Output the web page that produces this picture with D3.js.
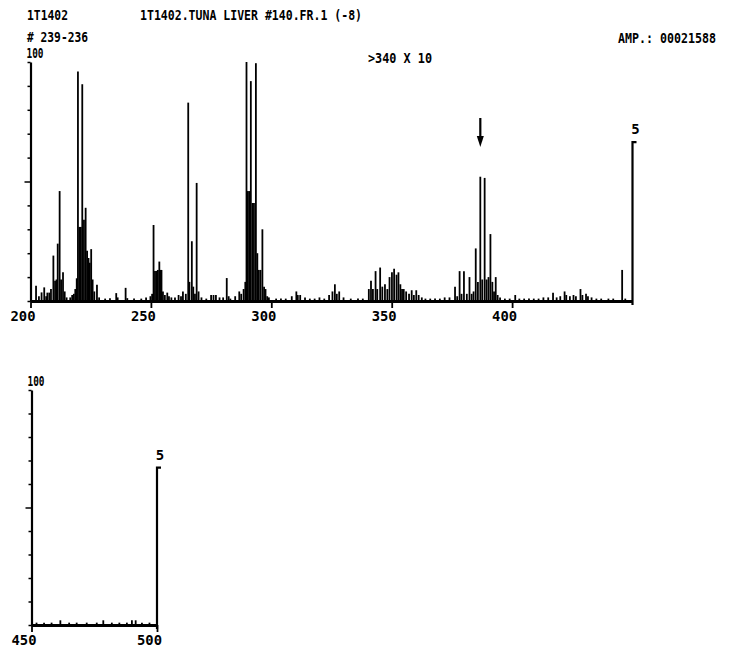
<!DOCTYPE html>
<html>
<head>
<meta charset="utf-8">
<script src="https://cdn.jsdelivr.net/npm/d3@7"></script>
<style>
  body { margin: 0; background: #fff; }
  svg text { font-family: "DejaVu Sans Mono", "Liberation Mono", monospace; fill: #000; font-weight: bold; }
</style>
</head>
<body>
<svg id="spec" width="736" height="650"></svg>
<script>
// upper trace, m/z 200-450 (relative intensity %)
const mzTop = [
  202.3, 203.5, 204.6, 205.7, 206.5, 207.0, 207.8, 208.5, 209.5, 210.2, 210.8, 211.3, 212.1, 212.7, 213.5, 214.2, 215,
  216.5, 217.3, 218, 218.6, 219.2, 219.7, 220.3, 220.9, 221.5, 222.2, 222.9, 223.5, 224.1, 224.6, 225.2, 225.8, 226.5, 227.6, 228.5,
  231, 233, 235.6, 236.2, 239.5, 240.2, 243, 246, 248,
  249.8, 250.5, 251.1, 251.7, 252.3, 252.9, 253.5, 254.0, 254.4, 255, 255.8, 256.8, 257.5,
  258.5, 260, 261.5, 262.5, 263.3, 264.5, 265.5, 266.0, 267.0, 267.6, 268.3, 269, 269.8, 271,
  273, 275, 276, 277, 278.5, 280, 281.5, 282.3, 283, 285, 286.7, 287.5,
  288.5, 289.2, 289.7, 290.2, 290.8, 291.5, 292.2, 292.8, 293.6, 294.2, 294.8, 295.5, 296.3, 297, 297.6, 298.3, 299,
  302, 304, 306, 308.5, 310.4, 311, 312, 314, 316, 318, 320, 322, 324, 325.4, 326.4, 327.2, 328.2, 330, 333, 336, 338,
  340.5, 341.4, 342.2, 343.3, 344, 345.2, 346.1, 347.2, 348.2, 349.1, 350.1, 351.0, 352.0, 352.8, 353.6, 354.3, 355, 356, 357.2, 358.3, 359.2, 360.2, 361.2, 362.5,
  364, 366, 368, 370, 372, 374,
  376.3, 377.2, 378.2, 379.0, 380.0, 381.2, 382.3, 383.2, 384, 384.9, 385.8, 386.8, 387.6, 388.6, 389.4, 390.2, 391, 391.8, 392.5, 393.2, 394, 395,
  397, 399, 401.3, 403, 405, 407, 409, 411, 413, 415, 417, 418.5, 420, 421.8, 422.5, 424, 425.5, 426.5, 428.4, 429.2, 430.7, 431.5, 433, 435, 437, 440, 442, 445.7, 447
];
const intTop = [
  6.4, 2, 3.6, 5.7, 2, 3.5, 3.5, 5, 19, 8.5, 9, 24, 46, 9, 12, 4, 1.5,
  1.5, 2.5, 3, 5, 9.5, 96, 31, 31, 90.7, 34, 39, 21, 18, 16, 21.7, 9, 4, 6.8, 1.5,
  1, 1.2, 3.3, 1.5, 5.5, 1.2, 1, 1, 1.5,
  2, 3, 31.8, 12.6, 12.6, 13, 16.5, 13, 13, 4, 2.5, 3.5, 2,
  1.5, 1.5, 2.5, 2, 4, 3, 83, 8, 25, 6, 3, 49.4, 4, 1.5,
  1, 2.5, 2.5, 2.5, 1.5, 1.5, 9.6, 2, 1, 2, 4, 3,
  5, 8, 100, 46, 46, 92, 41, 41, 99.5, 20, 13, 13, 30, 6, 5, 2, 1.5,
  1, 1, 1, 2, 4, 2.5, 2.5, 1.5, 1, 1, 1.5, 1, 2.5, 4, 7, 3, 4, 1.5, 1, 1, 1,
  5, 8.5, 5, 12.5, 5, 14, 6, 7, 5, 10, 12, 13.5, 11, 12, 7, 5, 5, 4, 3, 4.5, 2.5, 4.5, 2.5, 1.5,
  1, 1, 1, 1, 1.5, 1.5,
  6, 2, 12.5, 3, 12.5, 3, 10, 3, 4, 22, 8, 52, 9, 51.5, 9, 10, 28, 8, 4, 10, 2.5, 1.5,
  1, 1, 2.5, 1, 1, 1, 1, 1, 1.5, 1.5, 3.5, 1.5, 2, 4, 2.5, 2, 2.5, 2, 5, 2.5, 3, 2, 1.5, 1, 1, 1, 1, 13, 1
];
// lower trace, m/z 450-500
const mzLow = [452, 455, 458, 461.5, 465, 468, 472, 476, 478.6, 482, 485, 488, 490, 491.5, 494, 497];
const intLow = [1, 1, 1, 2, 1, 1, 1, 1, 2, 1, 1, 1, 2, 2, 1, 1];

const yTicks = [0, 10, 20, 30, 40, 50, 60, 70, 80, 90, 100];
const xTicksTop = [200, 250, 300, 350, 400];
const xTicksLow = [450, 500];
const markerTop = { mz: 450, value: 66.5, label: "5" };
const markerLow = { mz: 500, value: 67, label: "5" };
const arrowMz = 386.8;

const headerLines = [
  { text: "1T1402", x: 27, y: 20, w: 41 },
  { text: "1T1402.TUNA LIVER #140.FR.1 (-8)", x: 140, y: 20, w: 222 },
  { text: "# 239-236", x: 27, y: 42, w: 61 },
  { text: "AMP.: 00021588", x: 618, y: 43, w: 98 },
  { text: ">340 X 10", x: 368, y: 63, w: 64 }
];

const svg = d3.select("#spec");

const xTop = d3.scaleLinear().domain([200, 450]).range([30.5, 632.5]);
const yTop = d3.scaleLinear().domain([0, 100]).range([301, 62]);
const xLow = d3.scaleLinear().domain([450, 500]).range([31.5, 157]);
const yLow = d3.scaleLinear().domain([0, 100]).range([625, 390]);

// header text
svg.selectAll("text.head")
  .data(headerLines)
  .enter()
  .append("text")
  .attr("class", "head")
  .attr("x", d => d.x)
  .attr("y", d => d.y)
  .attr("textLength", d => d.w)
  .attr("lengthAdjust", "spacingAndGlyphs")
  .style("font-size", "14px")
  .text(d => d.text);

function panel(x, y, mz, inten, xTicks, marker) {
  const g = svg.append("g");

  // spectrum lines
  g.selectAll("line.pk")
    .data(mz.map((m, i) => ({ m, v: inten[i] })))
    .enter()
    .append("line")
    .attr("x1", d => x(d.m))
    .attr("x2", d => x(d.m))
    .attr("y1", y(0))
    .attr("y2", d => y(d.v))
    .attr("stroke", "#000")
    .attr("stroke-width", 1.8);

  // y axis, ticks every 10 %, longer at 50
  const ya = g.append("g")
    .attr("transform", `translate(${x.range()[0]},0)`)
    .call(d3.axisLeft(y).tickValues(yTicks).tickSize(3).tickSizeOuter(0).tickFormat(""));
  ya.selectAll(".tick line").attr("x2", d => d === 50 ? -6 : -3).attr("stroke-width", 1.5);
  ya.select(".domain").attr("stroke-width", 2.2);

  // x axis
  const xa = g.append("g")
    .attr("transform", `translate(0,${y(0)})`)
    .call(d3.axisBottom(x).tickValues(xTicks).tickSize(7).tickSizeOuter(0).tickPadding(3));
  xa.select(".domain").attr("stroke-width", 2.8);
  xa.selectAll(".tick line").attr("stroke-width", 1.8);
  xa.selectAll(".tick text")
    .attr("dx", -8)
    .attr("textLength", 25)
    .attr("lengthAdjust", "spacingAndGlyphs")
    .style("font-size", "14px")
    .style("font-family", "DejaVu Sans Mono")
    .style("font-weight", "bold");

  // 100 label at top of y axis
  g.append("text")
    .attr("x", x.range()[0] - 4)
    .attr("y", y(100) - 4)
    .attr("textLength", 17)
    .attr("lengthAdjust", "spacingAndGlyphs")
    .style("font-size", "14px")
    .text("100");

  // scale marker at right end
  const mx = x(marker.mz);
  g.append("path")
    .attr("d", `M${mx},${y(0) + 4}V${y(marker.value)}h4`)
    .attr("fill", "none")
    .attr("stroke", "#000")
    .attr("stroke-width", 2.2);
  g.append("text")
    .attr("x", mx + 3)
    .attr("y", y(marker.value) - 8)
    .attr("text-anchor", "middle")
    .style("font-size", "14px")
    .text(marker.label);
  return g;
}

panel(xTop, yTop, mzTop, intTop, xTicksTop, markerTop);
panel(xLow, yLow, mzLow, intLow, xTicksLow, markerLow);

// arrow above m/z 387
const ax = xTop(arrowMz);
svg.append("path")
  .attr("d", `M${ax},118V140`)
  .attr("stroke", "#000")
  .attr("stroke-width", 2.2);
svg.append("path")
  .attr("d", `M${ax - 3.5},136L${ax},147L${ax + 3.5},136Z`)
  .attr("fill", "#000");
</script>
</body>
</html>
